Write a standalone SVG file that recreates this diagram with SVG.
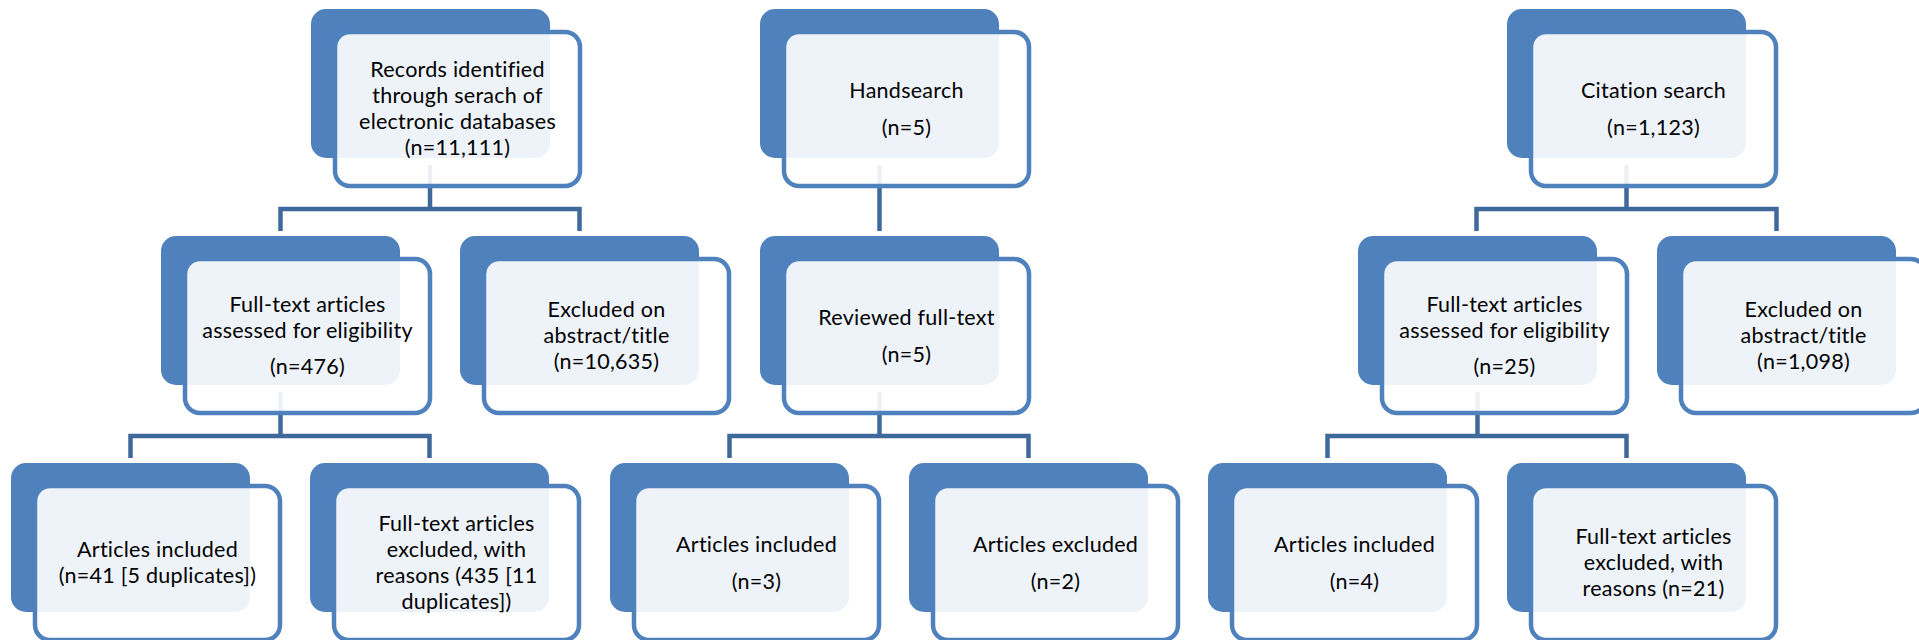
<svg xmlns="http://www.w3.org/2000/svg" width="1919" height="640" viewBox="0 0 1919 640">
<defs>
<style>
.bg{fill:#ffffff}
.back{fill:#4f81bd}
.front{fill:#ffffff;fill-opacity:0.9;stroke:#4f81bd;stroke-width:4.5}
.conn{fill:none;stroke:#40699b;stroke-width:4.5;stroke-linejoin:miter}
text{font-family:Lato,"Liberation Sans",sans-serif;font-size:21.5px;letter-spacing:0.25px;fill:#000000;text-anchor:middle}
</style>
</defs>
<rect class="bg" x="0" y="0" width="1919" height="640"/>
<g id="connectors">
<path class="conn" d="M280.5 231 V209 H579.5 V231 M430 165 V209"/>
<path class="conn" d="M879.5 165 V231"/>
<path class="conn" d="M1476.5 231 V209 H1776.5 V231 M1626.5 165 V209"/>
<path class="conn" d="M130.5 458 V436 H429.5 V458 M280.5 392 V436"/>
<path class="conn" d="M729.5 458 V436 H1028.5 V458 M879.5 392 V436"/>
<path class="conn" d="M1327.5 458 V436 H1626.5 V458 M1477.5 392 V436"/>
</g>
<g id="records" transform="translate(311,9)">
<rect class="back" x="0" y="0" width="239" height="149" rx="15"/>
<rect class="front" x="24" y="23" width="245" height="154" rx="15"/>
<text x="146.5" y="68">Records identified</text>
<text x="146.5" y="94">through serach of</text>
<text x="146.5" y="120">electronic databases</text>
<text x="146.5" y="146">(n=11,111)</text>
</g>
<g id="handsearch" transform="translate(760,9)">
<rect class="back" x="0" y="0" width="239" height="149" rx="15"/>
<rect class="front" x="24" y="23" width="245" height="154" rx="15"/>
<text x="146.5" y="89">Handsearch</text>
<text x="146.5" y="126">(n=5)</text>
</g>
<g id="citation" transform="translate(1507,9)">
<rect class="back" x="0" y="0" width="239" height="149" rx="15"/>
<rect class="front" x="24" y="23" width="245" height="154" rx="15"/>
<text x="146.5" y="89">Citation search</text>
<text x="146.5" y="126">(n=1,123)</text>
</g>
<g id="fulltext1" transform="translate(161,236)">
<rect class="back" x="0" y="0" width="239" height="149" rx="15"/>
<rect class="front" x="24" y="23" width="245" height="154" rx="15"/>
<text x="146.5" y="76">Full-text articles</text>
<text x="146.5" y="102">assessed for eligibility</text>
<text x="146.5" y="138">(n=476)</text>
</g>
<g id="excluded1" transform="translate(460,236)">
<rect class="back" x="0" y="0" width="239" height="149" rx="15"/>
<rect class="front" x="24" y="23" width="245" height="154" rx="15"/>
<text x="146.5" y="81">Excluded on</text>
<text x="146.5" y="107">abstract/title</text>
<text x="146.5" y="133">(n=10,635)</text>
</g>
<g id="reviewed" transform="translate(760,236)">
<rect class="back" x="0" y="0" width="239" height="149" rx="15"/>
<rect class="front" x="24" y="23" width="245" height="154" rx="15"/>
<text x="146.5" y="89">Reviewed full-text</text>
<text x="146.5" y="126">(n=5)</text>
</g>
<g id="fulltext3" transform="translate(1358,236)">
<rect class="back" x="0" y="0" width="239" height="149" rx="15"/>
<rect class="front" x="24" y="23" width="245" height="154" rx="15"/>
<text x="146.5" y="76">Full-text articles</text>
<text x="146.5" y="102">assessed for eligibility</text>
<text x="146.5" y="138">(n=25)</text>
</g>
<g id="excluded3" transform="translate(1657,236)">
<rect class="back" x="0" y="0" width="239" height="149" rx="15"/>
<rect class="front" x="24" y="23" width="245" height="154" rx="15"/>
<text x="146.5" y="81">Excluded on</text>
<text x="146.5" y="107">abstract/title</text>
<text x="146.5" y="133">(n=1,098)</text>
</g>
<g id="included1" transform="translate(11,463)">
<rect class="back" x="0" y="0" width="239" height="149" rx="15"/>
<rect class="front" x="24" y="23" width="245" height="154" rx="15"/>
<text x="146.5" y="94">Articles included</text>
<text x="146.5" y="120">(n=41 [5 duplicates])</text>
</g>
<g id="ftexcluded1" transform="translate(310,463)">
<rect class="back" x="0" y="0" width="239" height="149" rx="15"/>
<rect class="front" x="24" y="23" width="245" height="154" rx="15"/>
<text x="146.5" y="68">Full-text articles</text>
<text x="146.5" y="94">excluded, with</text>
<text x="146.5" y="120">reasons (435 [11</text>
<text x="146.5" y="146">duplicates])</text>
</g>
<g id="included2" transform="translate(610,463)">
<rect class="back" x="0" y="0" width="239" height="149" rx="15"/>
<rect class="front" x="24" y="23" width="245" height="154" rx="15"/>
<text x="146.5" y="89">Articles included</text>
<text x="146.5" y="126">(n=3)</text>
</g>
<g id="excluded2" transform="translate(909,463)">
<rect class="back" x="0" y="0" width="239" height="149" rx="15"/>
<rect class="front" x="24" y="23" width="245" height="154" rx="15"/>
<text x="146.5" y="89">Articles excluded</text>
<text x="146.5" y="126">(n=2)</text>
</g>
<g id="included3" transform="translate(1208,463)">
<rect class="back" x="0" y="0" width="239" height="149" rx="15"/>
<rect class="front" x="24" y="23" width="245" height="154" rx="15"/>
<text x="146.5" y="89">Articles included</text>
<text x="146.5" y="126">(n=4)</text>
</g>
<g id="ftexcluded3" transform="translate(1507,463)">
<rect class="back" x="0" y="0" width="239" height="149" rx="15"/>
<rect class="front" x="24" y="23" width="245" height="154" rx="15"/>
<text x="146.5" y="81">Full-text articles</text>
<text x="146.5" y="107">excluded, with</text>
<text x="146.5" y="133">reasons (n=21)</text>
</g>
</svg>
